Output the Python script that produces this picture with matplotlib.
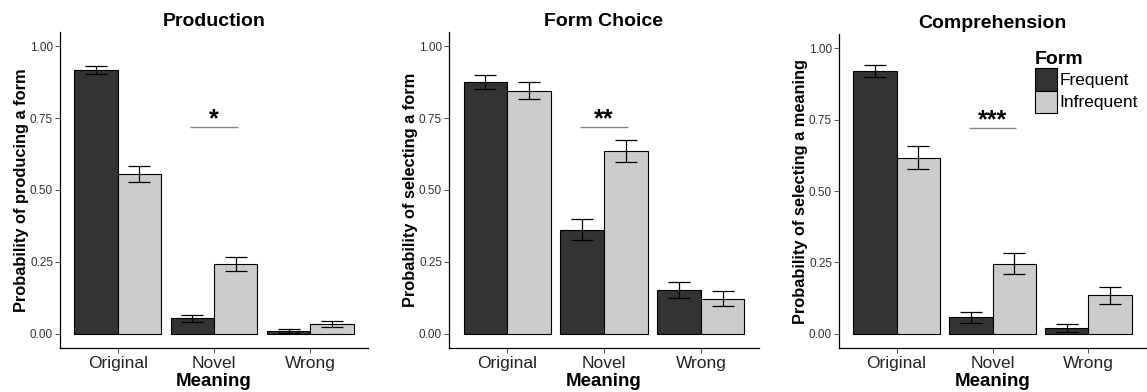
import numpy as np
import matplotlib
matplotlib.use("Agg")
import matplotlib.pyplot as plt
from matplotlib.patches import Patch

plt.rcParams['font.family'] = ['Liberation Sans', 'DejaVu Sans']

# data: mean probabilities and standard errors per meaning type
meanings = ["Original", "Novel", "Wrong"]
forms = ["Frequent", "Infrequent"]
titles = ["Production", "Form Choice", "Comprehension"]
ylabels = ["Probability of producing a form",
           "Probability of selecting a form",
           "Probability of selecting a meaning"]

prod_freq = [0.917, 0.053, 0.009]
prod_infreq = [0.556, 0.242, 0.034]
prod_freq_se = [0.013, 0.013, 0.007]
prod_infreq_se = [0.028, 0.024, 0.010]

choice_freq = [0.877, 0.362, 0.153]
choice_infreq = [0.846, 0.637, 0.122]
choice_freq_se = [0.025, 0.037, 0.028]
choice_infreq_se = [0.029, 0.038, 0.026]

comp_freq = [0.921, 0.057, 0.021]
comp_infreq = [0.617, 0.246, 0.135]
comp_freq_se = [0.022, 0.019, 0.014]
comp_infreq_se = [0.040, 0.037, 0.030]

sig_labels = ["*", "**", "***"]
sig_y = 0.72

panels = [
    (prod_freq, prod_infreq, prod_freq_se, prod_infreq_se),
    (choice_freq, choice_infreq, choice_freq_se, choice_infreq_se),
    (comp_freq, comp_infreq, comp_freq_se, comp_infreq_se),
]

colors = ["#333333", "#cccccc"]
bar_w = 0.45

fig = plt.figure(figsize=(11.47, 3.92), dpi=100)
# axes boxes in figure pixels: left, right, top, bottom
boxes = [(60, 368, 32, 348), (449, 759, 32, 348), (839, 1146, 34, 348)]
W, H = 1147, 392

for i, (freq, infreq, freq_se, infreq_se) in enumerate(panels):
    l, r, t, b = boxes[i]
    ax = fig.add_axes([l / W, (H - b) / H, (r - l) / W, (b - t) / H])
    x = np.arange(len(meanings)) + 1
    for j, (vals, errs) in enumerate([(freq, freq_se), (infreq, infreq_se)]):
        xs = x + (j - 0.5) * bar_w
        ax.bar(xs, vals, width=bar_w, color=colors[j], edgecolor="black",
               linewidth=0.8, zorder=2, label=forms[j])
        vals = np.array(vals)
        errs = np.array(errs)
        ax.vlines(xs, vals - errs, vals + errs, color="black", lw=0.9, zorder=3)
        ax.hlines(vals - errs, xs - 0.115, xs + 0.115, color="black", lw=0.9, zorder=3)
        ax.hlines(vals + errs, xs - 0.115, xs + 0.115, color="black", lw=0.9, zorder=3)

    # significance marker over the Novel pair
    ax.hlines(sig_y, 1.75, 2.25, color="#888888", lw=1.0, zorder=3)
    ax.text(2.0, sig_y + 0.002, sig_labels[i], ha="center", va="baseline",
            fontsize=18, fontweight="bold")

    ax.set_xlim(0.4, 3.6)
    ax.set_ylim(-0.05, 1.05)
    ax.set_xticks(x)
    ax.set_xticklabels(meanings, fontsize=12.5, color="#222222")
    ax.set_yticks([0, 0.25, 0.5, 0.75, 1.0])
    ax.set_yticklabels(["0.00", "0.25", "0.50", "0.75", "1.00"],
                       fontsize=8.5, color="#333333")
    ax.tick_params(axis="both", length=3.5, width=0.6, color="#333333", pad=1.5)
    ax.tick_params(axis="x", pad=2)
    for s in ["top", "right"]:
        ax.spines[s].set_visible(False)
    for s in ["left", "bottom"]:
        ax.spines[s].set_linewidth(0.9)
    ax.set_title(titles[i], fontsize=14, fontweight="bold", pad=4)
    ax.set_xlabel("Meaning", fontsize=13.5, fontweight="bold", labelpad=1.5)
    ax.set_ylabel(ylabels[i], fontsize=11.8, fontweight="bold", labelpad=1)

    if i == 2:
        handles = [Patch(facecolor=colors[k], edgecolor="black", linewidth=0.8)
                   for k in range(2)]
        leg = ax.legend(handles, forms, title="Form", loc="upper left",
                        bbox_to_anchor=(0.638, 0.945), frameon=False,
                        fontsize=12.5, handlelength=1.27, handleheight=1.6,
                        handletextpad=0.15, labelspacing=0.0, borderpad=0,
                        borderaxespad=0)
        leg.get_title().set_fontweight("bold")
        leg.get_title().set_fontsize(14)
        leg._legend_box.align = "left"

fig.savefig("out.png", dpi=100)
